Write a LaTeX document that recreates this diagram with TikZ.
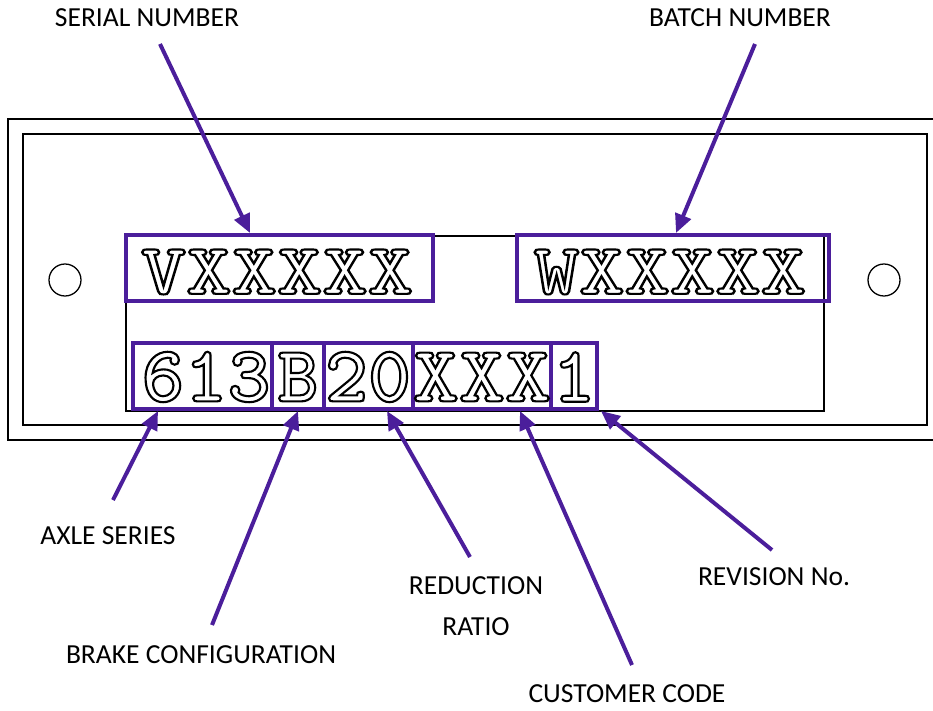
\documentclass[tikz,border=0pt]{standalone}
\usepackage{fontspec}
\setmainfont{Carlito}
\usetikzlibrary{arrows.meta}
\definecolor{plum}{RGB}{75,30,155}
\newcommand{\upx}{0.03cm}
\newcommand{\stamptext}[1]{{\color{white}\special{pdf:literal direct 0 G 2 Tr 1.8 w}#1\special{pdf:literal direct 0 Tr}}}
\tikzset{
  plate/.style={draw=black, line width=1.1pt},
  pbox/.style={draw=plum, line width=3.4pt, inner sep=0pt, minimum height=66*\upx},
  stamp/.style={inner sep=0pt, xscale=1.19, font=\fontsize{62}{62}\selectfont\ttfamily\bfseries},
  stampb/.style={inner sep=0pt, xscale=1.03, font=\fontsize{68}{68}\selectfont\ttfamily\bfseries},
  lab/.style={inner sep=0pt, font=\fontsize{23.5}{35}\selectfont, align=center},
  parrow/.style={draw=plum, line width=3.4pt, -{Triangle[length=16pt,width=14pt]}}
}
\begin{document}
\begin{tikzpicture}[x=\upx,y=-\upx]
\useasboundingbox (0,0) rectangle (933,711);
% plate
\draw[plate] (8,119) rectangle (960,440);
\draw[plate] (23,134) rectangle (927,425);
\draw[plate] (65,280) circle[radius=16];
\draw[plate] (884,280) circle[radius=16];
\draw[plate] (126,236) rectangle (824,411);
% boxes
\node[pbox, minimum width=307*\upx] (serial) at (279.5,268) {};
\node[pbox, minimum width=312*\upx] (batch) at (673,268) {};
\node[pbox, minimum width=139*\upx] (axle) at (202.5,376) {};
\node[pbox, minimum width=52*\upx] (brake) at (298,376) {};
\node[pbox, minimum width=89*\upx] (ratio) at (368.5,376) {};
\node[pbox, minimum width=138*\upx] (cust) at (482,376) {};
\node[pbox, minimum width=46*\upx] (rev) at (574,376) {};
% stamped texts
\node[stamp] (tserial) at (277,272) {\stamptext{VXXXXX}};
\node[stamp] (tbatch) at (670,272) {\stamptext{WXXXXX}};
\node[stampb] (taxle) at (206,377) {\stamptext{613}};
\node[stampb, xscale=0.95] (tbrake) at (298,377) {\stamptext{B}};
\node[stampb] (tratio) at (368,377) {\stamptext{20}};
\node[stampb, xscale=1.07] (tcust) at (482,377) {\stamptext{XXX}};
\node[stampb] (trev) at (574,377) {\stamptext{1}};
% labels
\node[lab] (lserial) at (147,18) {SERIAL NUMBER};
\node[lab] (lbatch) at (740,18) {BATCH NUMBER};
\node[lab] (laxle) at (108,536) {AXLE SERIES};
\node[lab] (lbrake) at (201,655) {BRAKE CONFIGURATION};
\node[lab] (lratio) at (476,606) {REDUCTION\\RATIO};
\node[lab] (lcust) at (627,694) {CUSTOMER CODE};
\node[lab] (lrev) at (774,577) {REVISION No.};
% arrow ends
\coordinate (s0) at (160,44);  \coordinate (s1) at (250,233);
\coordinate (b0) at (755,44);  \coordinate (b1) at (676,233);
\coordinate (a0) at (113,500); \coordinate (a1) at (158,411);
\coordinate (k0) at (212,625); \coordinate (k1) at (298,411);
\coordinate (r0) at (470,557); \coordinate (r1) at (387,411);
\coordinate (c0) at (632,665); \coordinate (c1) at (520,411);
\coordinate (v0) at (772,550); \coordinate (v1) at (601,411);
\draw[parrow] (s0) -- (s1);
\draw[parrow] (b0) -- (b1);
\draw[parrow] (a0) -- (a1);
\draw[parrow] (k0) -- (k1);
\draw[parrow] (r0) -- (r1);
\draw[parrow] (c0) -- (c1);
\draw[parrow] (v0) -- (v1);
\end{tikzpicture}
\end{document}
